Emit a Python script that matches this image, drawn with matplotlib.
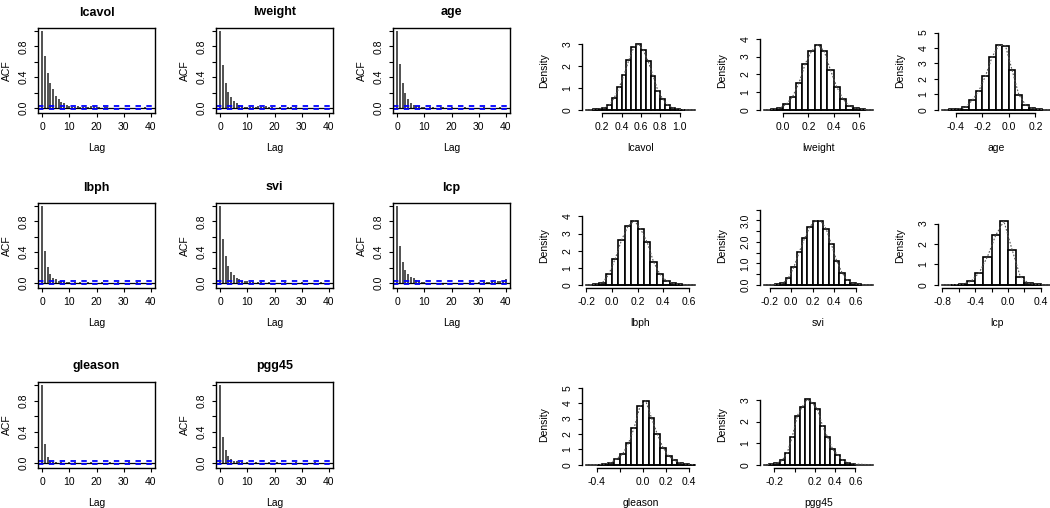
"""
MCMC diagnostics for the prostate regression coefficients:
autocorrelation of each chain (left) and posterior histograms (right).
"""

import numpy as np
import matplotlib
matplotlib.use("Agg")
import matplotlib.pyplot as plt

plt.rcParams["font.family"] = ["Liberation Sans", "DejaVu Sans"]

variables = ["lcavol", "lweight", "age", "lbph", "svi", "lcp", "gleason", "pgg45"]

# ---- ACF values, lags 0..40 ----
lags = list(range(41))
acf_lcavol = [1.0, 0.67, 0.46, 0.33, 0.24, 0.16, 0.11, 0.08, 0.06, 0.04,
              0.02, 0.01, 0.01, 0.02, 0.01, 0.01, 0.01, 0.01, 0.02, 0.02,
              0.01, 0.01, 0.00, 0.01, 0.01, 0.00, -0.01, -0.01, -0.01, 0.00,
              0.00, -0.01, -0.01, -0.02, -0.01, 0.00, 0.00, 0.00, 0.01, 0.00,
              0.00]
acf_lweight = [1.0, 0.56, 0.33, 0.21, 0.14, 0.09, 0.06, 0.04, 0.02, 0.01,
               0.01, 0.01, 0.01, 0.01, 0.02, 0.01, 0.01, 0.02, 0.01, 0.01,
               0.00, 0.00, 0.01, 0.00, 0.00, 0.01, 0.01, 0.00, 0.01, 0.00,
               0.00, -0.01, -0.01, -0.02, -0.01, -0.01, -0.01, -0.01, -0.01, 0.00,
               0.00]
acf_age = [1.0, 0.57, 0.33, 0.19, 0.12, 0.07, 0.04, 0.03, 0.02, 0.01,
           0.01, 0.00, 0.01, 0.01, 0.00, 0.00, 0.01, 0.01, 0.00, 0.00,
           0.01, 0.00, -0.01, 0.00, 0.00, 0.01, 0.00, 0.00, -0.01, -0.01,
           0.00, 0.00, 0.01, 0.00, 0.00, -0.01, 0.00, 0.00, 0.01, 0.00,
           0.00]
acf_lbph = [1.0, 0.42, 0.21, 0.12, 0.07, 0.05, 0.03, 0.02, 0.02, 0.01,
            0.01, 0.00, 0.01, 0.00, 0.01, 0.00, 0.00, 0.01, 0.00, -0.01,
            0.00, 0.00, 0.01, 0.00, 0.00, -0.01, 0.00, 0.00, 0.01, 0.00,
            0.00, 0.00, -0.01, 0.00, 0.00, 0.01, 0.00, 0.00, -0.01, 0.00,
            0.00]
acf_svi = [1.0, 0.57, 0.35, 0.22, 0.14, 0.10, 0.07, 0.05, 0.03, 0.02,
           0.02, 0.01, 0.01, 0.00, 0.01, 0.01, 0.00, 0.00, 0.01, 0.00,
           0.00, -0.01, 0.00, 0.00, 0.01, 0.00, 0.00, -0.01, 0.00, 0.00,
           0.01, 0.00, 0.00, -0.01, -0.01, 0.00, 0.00, 0.01, 0.00, 0.00,
           0.00]
acf_lcp = [1.0, 0.48, 0.27, 0.17, 0.11, 0.08, 0.06, 0.04, 0.02, 0.01,
           0.01, 0.00, 0.00, -0.01, -0.01, -0.02, -0.02, -0.03, -0.02, -0.02,
           -0.01, -0.01, 0.00, 0.00, -0.01, 0.00, 0.00, 0.01, 0.00, 0.00,
           0.01, 0.00, 0.01, 0.01, 0.01, 0.02, 0.01, 0.02, 0.03, 0.03,
           0.05]
acf_gleason = [1.0, 0.24, 0.08, 0.03, 0.01, 0.01, 0.00, 0.01, 0.00, 0.00,
               0.01, 0.00, 0.01, 0.00, 0.00, -0.01, 0.00, 0.00, 0.01, 0.00,
               0.00, 0.00, -0.01, 0.00, 0.00, 0.01, 0.00, 0.00, 0.00, -0.01,
               0.00, 0.00, 0.01, 0.00, 0.00, 0.00, -0.01, 0.00, 0.00, 0.00,
               -0.01]
acf_pgg45 = [1.0, 0.33, 0.17, 0.09, 0.05, 0.03, 0.02, 0.01, 0.01, 0.00,
             0.01, 0.00, 0.00, 0.01, 0.00, -0.01, 0.00, 0.00, 0.01, 0.00,
             0.00, 0.01, 0.00, 0.00, -0.01, 0.00, 0.00, 0.00, 0.01, 0.00,
             0.00, -0.01, 0.00, 0.00, 0.00, 0.01, 0.00, 0.00, 0.00, -0.01,
             0.00]
acf_values = [acf_lcavol, acf_lweight, acf_age, acf_lbph,
              acf_svi, acf_lcp, acf_gleason, acf_pgg45]
acf_ci = 0.02

# ---- histograms: first break, bin width, densities ----
hist_start = [0.10, -0.10, -0.45, -0.15, -0.15, -0.70, -0.40, -0.25]
hist_width = [0.05, 0.05, 0.05, 0.05, 0.05, 0.10, 0.05, 0.05]
dens_lcavol = [0.02, 0.05, 0.10, 0.23, 0.56, 1.02, 1.60, 2.27, 2.85, 3.00,
               2.70, 2.20, 1.55, 0.87, 0.49, 0.23, 0.10, 0.04, 0.01]
dens_lweight = [0.03, 0.10, 0.32, 0.75, 1.51, 2.60, 3.31, 3.66, 3.31, 2.24,
                1.29, 0.60, 0.22, 0.09, 0.03]
dens_age = [0.03, 0.06, 0.17, 0.62, 1.23, 2.20, 3.43, 4.18, 4.15, 2.56,
            0.99, 0.34, 0.09, 0.03]
dens_lbph = [0.03, 0.12, 0.61, 1.52, 2.63, 3.43, 3.75, 3.24, 2.48, 1.33,
             0.61, 0.23, 0.08, 0.03]
dens_svi = [0.02, 0.08, 0.33, 0.82, 1.52, 2.16, 2.71, 2.98, 2.98, 2.62,
            1.89, 1.10, 0.56, 0.21, 0.07, 0.02]
dens_lcp = [0.01, 0.03, 0.18, 0.60, 1.38, 2.42, 3.12, 1.72, 0.40, 0.07, 0.02]
dens_gleason = [0.02, 0.05, 0.15, 0.40, 0.70, 1.39, 2.40, 3.78, 4.15, 3.05,
                2.00, 1.12, 0.56, 0.29, 0.11, 0.04, 0.02]
dens_pgg45 = [0.03, 0.08, 0.20, 0.54, 1.28, 2.26, 2.69, 3.03, 2.85, 2.57,
              1.80, 1.28, 0.72, 0.46, 0.20, 0.10, 0.04]
densities = [dens_lcavol, dens_lweight, dens_age, dens_lbph,
             dens_svi, dens_lcp, dens_gleason, dens_pgg45]

# range covered by the density curve, and top of the density axis
curve_range = [(0.035, 1.155), (-0.15, 0.71), (-0.50, 0.315), (-0.20, 0.645),
               (-0.25, 0.76), (-0.80, 0.52), (-0.49, 0.45), (-0.30, 0.77)]
density_top = [3.58, 4.43, 5.09, 4.60, 3.66, 3.85, 5.16, 3.68]

hist_xticks = [[0.2, 0.4, 0.6, 0.8, 1.0],
               [0.0, 0.2, 0.4, 0.6],
               [-0.4, -0.2, 0.0, 0.2],
               [-0.2, 0.0, 0.2, 0.4, 0.6],
               [-0.2, 0.0, 0.2, 0.4, 0.6],
               [-0.8, -0.6, -0.4, -0.2, 0.0, 0.2, 0.4],
               [-0.4, -0.2, 0.0, 0.2, 0.4],
               [-0.2, 0.0, 0.2, 0.4, 0.6]]
hist_xlabels = [["0.2", "0.4", "0.6", "0.8", "1.0"],
                ["0.0", "0.2", "0.4", "0.6"],
                ["-0.4", "-0.2", "0.0", "0.2"],
                ["-0.2", "0.0", "0.2", "0.4", "0.6"],
                ["-0.2", "0.0", "0.2", "0.4", "0.6"],
                ["-0.8", "", "-0.4", "", "0.0", "", "0.4"],
                ["-0.4", "", "0.0", "0.2", "0.4"],
                ["-0.2", "", "0.2", "0.4", "0.6"]]
hist_yticks = [[0, 1, 2, 3], [0, 1, 2, 3, 4], [0, 1, 2, 3, 4, 5], [0, 1, 2, 3, 4],
               [0.0, 0.5, 1.0, 1.5, 2.0, 2.5, 3.0, 3.5], [0, 1, 2, 3],
               [0, 1, 2, 3, 4, 5], [0, 1, 2, 3]]
hist_ylabels = [["0", "1", "2", "3"], ["0", "1", "2", "3", "4"],
                ["0", "1", "2", "3", "4", "5"], ["0", "1", "2", "3", "4"],
                ["0.0", "", "1.0", "", "2.0", "", "3.0", ""], ["0", "1", "2", "3"],
                ["0", "1", "2", "3", "4", "5"], ["0", "1", "2", "3"]]

W, H = 1050, 508
acf_left = [38, 216, 393]
hist_left = [582, 760, 938]
row_top = [28, 203, 382]
row_bottom = [113, 288, 468]
BOX_W = 117

TICK_FS = 7.5
LAB_FS = 7.5


def panel(left, r):
    return [left / W, 1 - row_bottom[r] / H, BOX_W / W, (row_bottom[r] - row_top[r]) / H]


def style_ticks(ax):
    ax.tick_params(direction="out", length=3.2, width=0.8, labelsize=TICK_FS, pad=3.5)
    for lab in ax.get_yticklabels():
        lab.set_rotation(90)
        lab.set_va("center")


def draw_acf(ax, name, acf):
    ax.vlines(lags, 0, acf, color="#222222", lw=1.1)
    ax.axhline(0, color="black", lw=0.9)
    for c in (acf_ci, -acf_ci):
        ax.axhline(c, color="#0000ff", lw=1.3, linestyle=(0, (3, 3)))
    ax.set_xlim(-1.6, 41.6)
    ax.set_ylim(-0.066, 1.04)
    ax.set_xticks([0, 10, 20, 30, 40])
    ax.set_yticks([0.0, 0.2, 0.4, 0.6, 0.8, 1.0])
    ax.set_yticklabels(["0.0", "", "0.4", "", "0.8", ""])
    for s in ax.spines.values():
        s.set_linewidth(1.0)
    style_ticks(ax)
    ax.set_title(name, fontsize=9, fontweight="bold", pad=9)
    ax.set_xlabel("Lag", fontsize=LAB_FS, labelpad=8)
    ax.set_ylabel("ACF", fontsize=LAB_FS, labelpad=5)


def draw_hist(ax, i):
    dens = np.array(densities[i])
    edges = hist_start[i] + hist_width[i] * np.arange(len(dens))
    mids = edges + hist_width[i] / 2
    lo, hi = curve_range[i]
    ax.plot([lo, hi], [0, 0], color="black", lw=1.1)
    ax.bar(edges, dens, width=hist_width[i], align="edge", color="white",
           edgecolor="black", linewidth=1.2)
    ax.plot(np.r_[lo, mids, hi], np.r_[0, dens, 0], color="#555555",
            lw=0.8, linestyle=(0, (1.5, 1.5)))
    pad = 0.04 * (hi - lo)
    ax.set_xlim(lo - pad, hi + pad)
    top = density_top[i]
    ax.set_ylim(-0.04 * top, 1.04 * top)
    ax.set_xticks(hist_xticks[i])
    ax.set_xticklabels(hist_xlabels[i])
    ax.set_yticks(hist_yticks[i])
    ax.set_yticklabels(hist_ylabels[i])
    ax.spines["top"].set_visible(False)
    ax.spines["right"].set_visible(False)
    ax.spines["bottom"].set_bounds(hist_xticks[i][0], hist_xticks[i][-1])
    ax.spines["left"].set_bounds(hist_yticks[i][0], hist_yticks[i][-1])
    for s in ("bottom", "left"):
        ax.spines[s].set_linewidth(1.0)
    style_ticks(ax)
    ax.set_xlabel(variables[i], fontsize=LAB_FS, labelpad=8)
    ax.set_ylabel("Density", fontsize=LAB_FS, labelpad=10)


fig = plt.figure(figsize=(W / 100, H / 100), dpi=100)
for i, name in enumerate(variables):
    r, c = divmod(i, 3)
    ax = fig.add_axes(panel(acf_left[c], r))
    draw_acf(ax, name, acf_values[i])
    ax2 = fig.add_axes(panel(hist_left[c], r))
    draw_hist(ax2, i)

fig.savefig("out.png", dpi=100)
plt.close(fig)
